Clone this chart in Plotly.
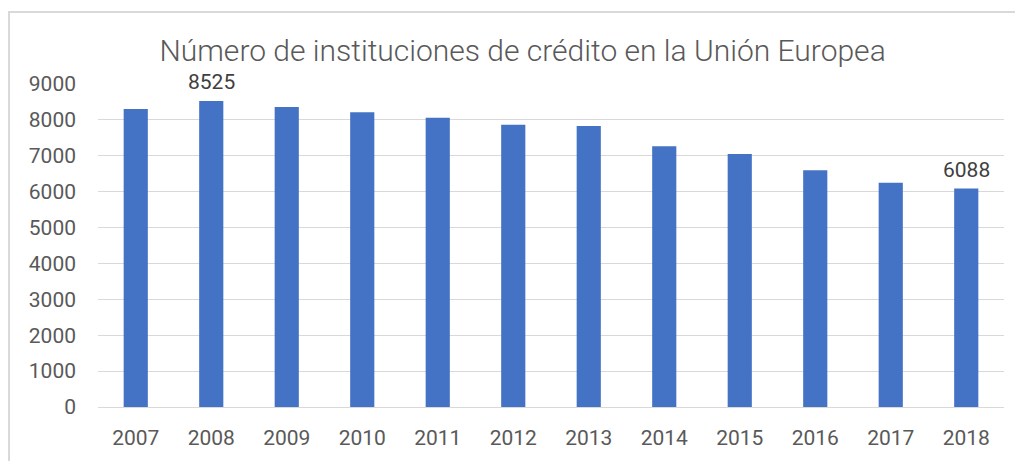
import plotly.graph_objects as go

years = ["2007", "2008", "2009", "2010", "2011", "2012", "2013", "2014", "2015", "2016", "2017", "2018"]
values = [8300, 8525, 8358, 8216, 8060, 7867, 7830, 7266, 7053, 6596, 6250, 6088]
labels = ["", "8525", "", "", "", "", "", "", "", "", "", "6088"]

font_family = "Roboto, Open Sans, sans-serif"

fig = go.Figure()
fig.add_trace(go.Bar(
    x=years, y=values,
    marker=dict(color="#4472C4", line=dict(width=0)),
    hoverinfo="x+y",
))

for i, (v, lab) in enumerate(zip(values, labels)):
    if lab:
        fig.add_annotation(x=i, y=v, xref="x", yref="y", text=lab, showarrow=False,
                           yanchor="bottom", yshift=5,
                           font=dict(size=21, color="#404040", family=font_family))

fig.update_layout(
    width=1015, height=453,
    paper_bgcolor="white", plot_bgcolor="white",
    margin=dict(l=90, r=19, t=76, b=54),
    bargap=0.68,
    showlegend=False,
    title=dict(text="Número de instituciones de crédito en la Unión Europea",
               x=0.507, xanchor="center", xref="container", y=0.907, yanchor="middle", yref="container",
               font=dict(size=30, color="#595959", family=font_family, weight=300)),
    font=dict(family=font_family, color="#595959", size=20),
    xaxis=dict(type="category", range=[-0.5, len(years) - 0.5], showgrid=False, showline=True,
               linecolor="#d9d9d9", linewidth=1,
               ticks="", tickfont=dict(size=21, color="#595959"), ticklabelstandoff=12),
    yaxis=dict(range=[0, 9000], dtick=1000, showgrid=True, gridcolor="#d9d9d9",
               gridwidth=1, zeroline=False, showline=False, ticks="",
               tickfont=dict(size=21, color="#595959"), ticklabelstandoff=21),
    shapes=[dict(type="rect", xref="paper", yref="paper", x0=-0.0982, x1=1.1, y0=-0.3, y1=1.2229,
                 line=dict(color="#d9d9d9", width=2), fillcolor="rgba(0,0,0,0)", layer="below")],
)

fig.write_html("out.html")
